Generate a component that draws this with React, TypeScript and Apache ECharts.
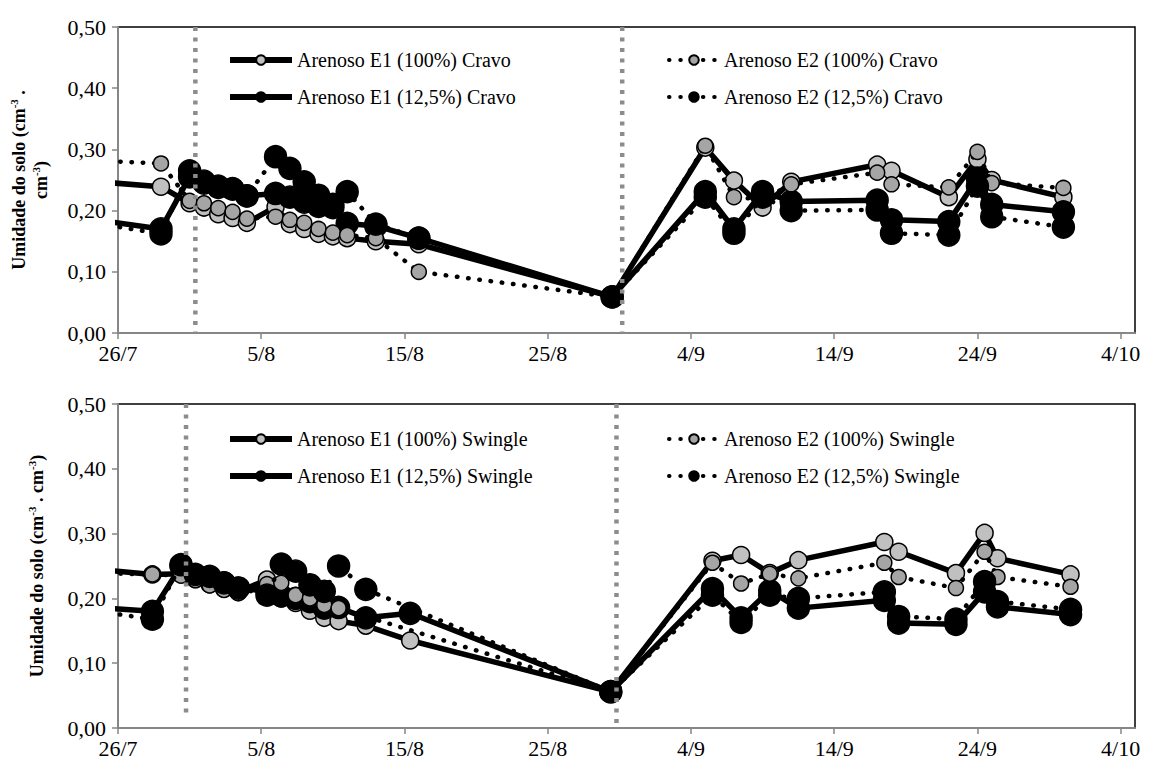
import React, { useEffect, useRef } from "react";
import * as echarts from "echarts";

// ---------------- data ----------------
const xTickLabels = ["26/7", "5/8", "15/8", "25/8", "4/9", "14/9", "24/9", "4/10"];

const topNames = [
  "Arenoso E1 (100%) Cravo",
  "Arenoso E1 (12,5%) Cravo",
  "Arenoso E2 (100%) Cravo",
  "Arenoso E2 (12,5%) Cravo",
];
const botNames = [
  "Arenoso E1 (100%) Swingle",
  "Arenoso E1 (12,5%) Swingle",
  "Arenoso E2 (100%) Swingle",
  "Arenoso E2 (12,5%) Swingle",
];

// days after 26/7
const topDays = [-3, 3, 5, 6, 7, 8, 9, 11, 12, 13, 14, 15, 16, 18, 21, 34.5, 41, 43, 45, 47, 53, 54, 58, 60, 61, 66];
const topE1_100 = [0.25, 0.239, 0.212, 0.205, 0.194, 0.188, 0.18, 0.206, 0.178, 0.17, 0.162, 0.158, 0.155, 0.15, 0.145, 0.059, 0.303, 0.249, 0.205, 0.247, 0.275, 0.265, 0.222, 0.284, 0.25, 0.222];
const topE1_125 = [0.19, 0.17, 0.255, 0.245, 0.238, 0.235, 0.224, 0.228, 0.222, 0.214, 0.207, 0.205, 0.179, 0.175, 0.155, 0.059, 0.231, 0.17, 0.231, 0.215, 0.217, 0.185, 0.182, 0.253, 0.21, 0.198];
const topE2_100 = [0.283, 0.277, 0.216, 0.212, 0.204, 0.198, 0.187, 0.19, 0.185, 0.18, 0.17, 0.164, 0.16, 0.155, 0.1, 0.059, 0.306, 0.222, 0.218, 0.243, 0.262, 0.243, 0.238, 0.296, 0.245, 0.237];
const topE2_125 = [0.185, 0.162, 0.265, 0.248, 0.24, 0.236, 0.224, 0.288, 0.269, 0.247, 0.225, 0.21, 0.231, 0.178, 0.155, 0.059, 0.222, 0.163, 0.222, 0.2, 0.201, 0.163, 0.16, 0.24, 0.19, 0.173];

const botDays = [-3, 2.4, 4.4, 5.4, 6.4, 7.4, 8.4, 10.4, 11.4, 12.4, 13.4, 14.4, 15.4, 17.3, 20.4, 34.4, 41.5, 43.5, 45.5, 47.5, 53.5, 54.5, 58.5, 60.5, 61.4, 66.5];
const botE1_100 = [0.248, 0.237, 0.238, 0.23, 0.222, 0.215, 0.21, 0.229, 0.2, 0.193, 0.181, 0.17, 0.165, 0.158, 0.135, 0.056, 0.258, 0.267, 0.239, 0.259, 0.287, 0.272, 0.239, 0.301, 0.262, 0.237];
const botE1_125 = [0.188, 0.18, 0.25, 0.235, 0.232, 0.224, 0.216, 0.211, 0.204, 0.2, 0.195, 0.185, 0.186, 0.17, 0.177, 0.056, 0.215, 0.17, 0.212, 0.185, 0.197, 0.162, 0.16, 0.21, 0.187, 0.175];
const botE2_100 = [0.24, 0.237, 0.235, 0.228, 0.22, 0.213, 0.208, 0.222, 0.224, 0.205, 0.2, 0.19, 0.185, null, null, 0.056, 0.255, 0.223, 0.238, 0.231, 0.255, 0.233, 0.216, 0.272, 0.233, 0.218];
const botE2_125 = [0.185, 0.168, 0.252, 0.237, 0.234, 0.224, 0.216, 0.205, 0.253, 0.242, 0.221, 0.211, 0.25, 0.214, null, 0.056, 0.205, 0.163, 0.205, 0.2, 0.21, 0.172, 0.168, 0.226, 0.195, 0.183];

// vertical dashed dividers: [day, yFrom, yTo]
const topDividers = [
  [5.4, 0.0, 0.5],
  [35.2, 0.0, 0.5],
];
const botDividers = [
  [4.75, 0.02, 0.5],
  [34.8, 0.005, 0.5],
];

// ---------------- styles ----------------
const FONT = "Liberation Serif";
const X_MAX = 71;

const kinds = [
  { dotted: false, size: 17, fill: "#c0c0c0" },
  { dotted: false, size: 22, fill: "#000000" },
  { dotted: true, size: 15, fill: "#a5a5a5" },
  { dotted: true, size: 22, fill: "#000000" },
];

function pairs(days: number[], vals: (number | null)[]) {
  return days.map((d, i) => [d, vals[i] === null ? "-" : vals[i]]);
}

function makeSeries(name: string, days: number[], vals: (number | null)[], k: number, gi: number) {
  const kind = kinds[k];
  return {
    name,
    type: "line",
    xAxisIndex: gi,
    yAxisIndex: gi,
    data: pairs(days, vals),
    connectNulls: true,
    clip: true,
    symbol: "circle",
    symbolSize: kind.size,
    z: 2 + k,
    lineStyle: kind.dotted
      ? { color: "#000", width: 4.5, type: [0.5, 10.8], cap: "round" }
      : { color: "#000", width: 5.5, type: "solid" },
    itemStyle: { color: kind.fill, borderColor: "#000", borderWidth: 1.5 },
  };
}

function makeDivider(d: number[], gi: number) {
  return {
    type: "line",
    xAxisIndex: gi,
    yAxisIndex: gi,
    data: [
      [d[0], d[2]],
      [d[0], d[1]],
    ],
    symbol: "none",
    silent: true,
    z: 10,
    lineStyle: { color: "#8c8c8c", width: 4.5, type: [4, 6.5], cap: "butt" },
  };
}

const axisGray = "#868686";

function xAxis(gi: number) {
  return {
    type: "value",
    gridIndex: gi,
    min: 0,
    max: X_MAX,
    interval: 10,
    axisLine: { show: true, lineStyle: { color: axisGray, width: 2 } },
    axisTick: { show: true, length: 6, lineStyle: { color: axisGray, width: 1.5 } },
    splitLine: { show: false },
    axisLabel: {
      showMaxLabel: false,
      margin: 9,
      color: "#000",
      fontFamily: FONT,
      fontSize: 22,
      formatter: (v: number) => {
        const i = Math.round(v / 10);
        return Math.abs(v - i * 10) < 1e-6 && xTickLabels[i] ? xTickLabels[i] : "";
      },
    },
  };
}

const nameRich = {
  b: { fontSize: 18, fontWeight: "bold", fontFamily: FONT, color: "#000", lineHeight: 22 },
  s: { fontSize: 11, fontWeight: "bold", fontFamily: FONT, color: "#000", verticalAlign: "top" },
};

function yAxis(gi: number, name: string, gap: number) {
  return {
    type: "value",
    gridIndex: gi,
    min: 0,
    max: 0.5,
    interval: 0.1,
    name,
    nameLocation: "middle",
    nameRotate: 90,
    nameGap: gap,
    nameTextStyle: { rich: nameRich, fontFamily: FONT },
    axisLine: { show: true, lineStyle: { color: axisGray, width: 2 } },
    axisTick: { show: true, length: 6, lineStyle: { color: axisGray, width: 1.5 } },
    splitLine: { show: false },
    axisLabel: {
      margin: 12,
      color: "#000",
      fontFamily: FONT,
      fontSize: 22,
      formatter: (v: number) => v.toFixed(2).replace(".", ","),
    },
  };
}

function legend(names: string[], left: number, top: number, w: number, solid: boolean) {
  return {
    data: names,
    orient: "vertical",
    left,
    top,
    itemWidth: w,
    itemHeight: 12,
    itemGap: 17,
    selectedMode: false,
    lineStyle: solid ? { width: 6 } : { width: 4 },
    textStyle: { fontFamily: FONT, fontSize: 20, color: "#000" },
  };
}

export default function App() {
  const ref = useRef<HTMLDivElement>(null);
  useEffect(() => {
    if (!ref.current) return;
    const chart = echarts.init(ref.current, undefined, { renderer: "svg" });
    const topVals = [topE1_100, topE1_125, topE2_100, topE2_125];
    const botVals = [botE1_100, botE1_125, botE2_100, botE2_125];
    const series: any[] = [];
    topVals.forEach((v, k) => series.push(makeSeries(topNames[k], topDays, v, k, 0)));
    botVals.forEach((v, k) => series.push(makeSeries(botNames[k], botDays, v, k, 1)));
    topDividers.forEach((d) => series.push(makeDivider(d, 0)));
    botDividers.forEach((d) => series.push(makeDivider(d, 1)));

    chart.setOption({
      animation: false,
      backgroundColor: "#ffffff",
      grid: [
        { left: 118, right: 19, top: 27, height: 306, show: true, borderColor: "#000", borderWidth: 1.5, backgroundColor: "transparent" },
        { left: 118, right: 19, top: 404, height: 324, show: true, borderColor: "#000", borderWidth: 1.5, backgroundColor: "transparent" },
      ],
      xAxis: [xAxis(0), xAxis(1)],
      yAxis: [
        yAxis(0, "{b|Umidade do solo (cm}{s|-3}{b| .}\n{b|cm}{s|-3}{b|)}", 66),
        yAxis(1, "{b|Umidade do solo (cm}{s|-3}{b| . cm}{s|-3}{b|)}", 70),
      ],
      legend: [
        legend(topNames.slice(0, 2), 222, 45, 62, true),
        legend(topNames.slice(2), 662, 45, 50, false),
        legend(botNames.slice(0, 2), 222, 424, 62, true),
        legend(botNames.slice(2), 662, 424, 50, false),
      ],
      series,
    });
    return () => chart.dispose();
  }, []);
  return (
    <div
      ref={ref}
      style={{ position: "fixed", left: 0, top: 0, width: 1154, height: 771, background: "#fff" }}
    />
  );
}
